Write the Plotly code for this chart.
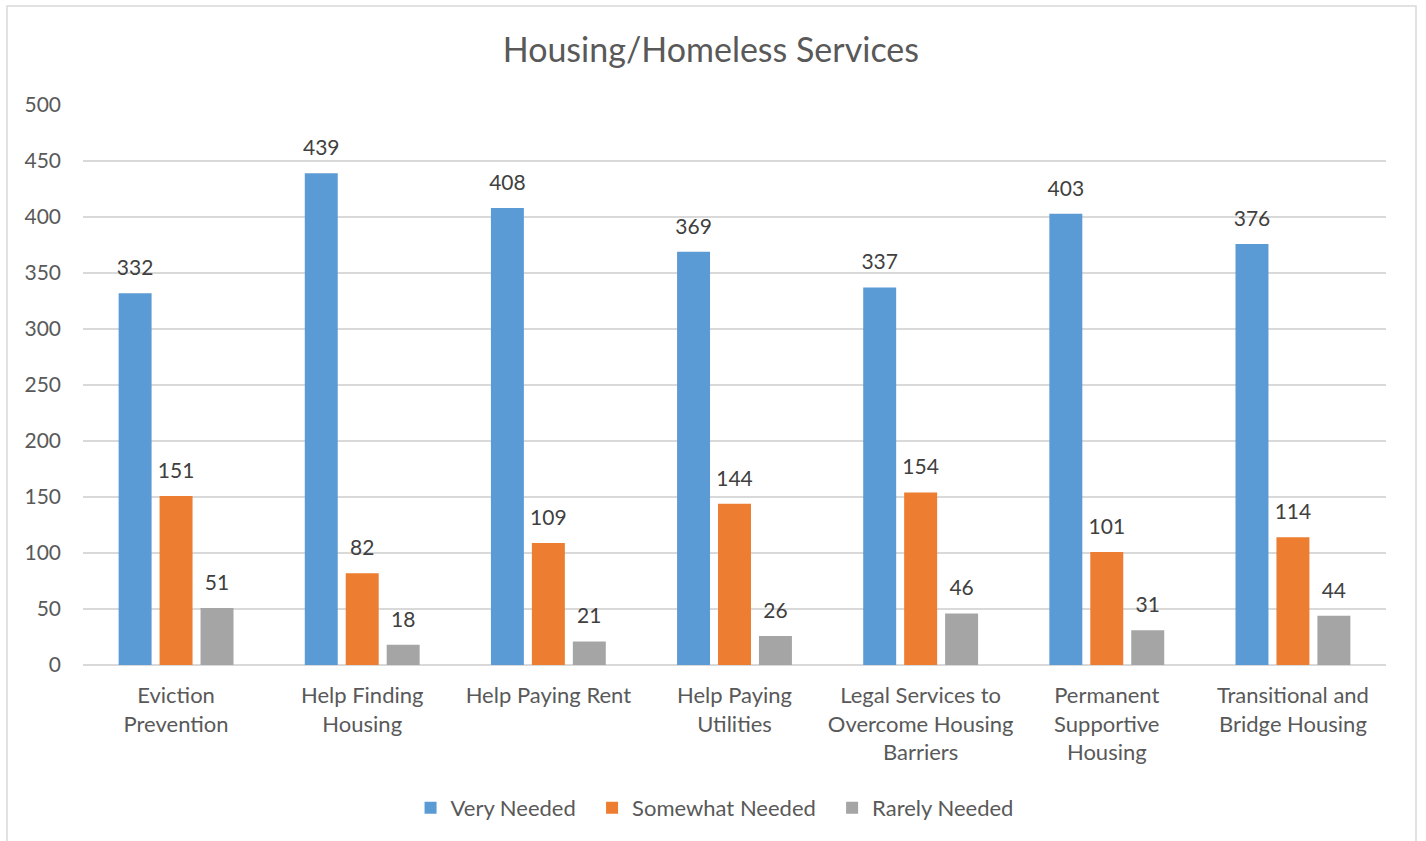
import plotly.graph_objects as go

categories = ["Eviction<br>Prevention", "Help Finding<br>Housing", "Help Paying Rent",
              "Help Paying<br>Utilities", "Legal Services to<br>Overcome Housing<br>Barriers",
              "Permanent<br>Supportive<br>Housing", "Transitional and<br>Bridge Housing"]
very_needed = [332, 439, 408, 369, 337, 403, 376]
somewhat_needed = [151, 82, 109, 144, 154, 101, 114]
rarely_needed = [51, 18, 21, 26, 46, 31, 44]
series_names = ["Very Needed", "Somewhat Needed", "Rarely Needed"]
colors = ["#5B9BD5", "#ED7D31", "#A5A5A5"]
y_ticks = [0, 50, 100, 150, 200, 250, 300, 350, 400, 450, 500]

FONT = "Lato"
BARGAP = 0.34
fig = go.Figure()
all_series = [very_needed, somewhat_needed, rarely_needed]
for i, (name, vals, col) in enumerate(zip(series_names, all_series, colors)):
    fig.add_trace(go.Bar(
        x=categories, y=vals, name=name + "\u00a0\u00a0",
        marker=dict(color=col, line=dict(width=0)),
        offsetgroup=str(i), hoverinfo="skip",
    ))
for i, (name, vals) in enumerate(zip(series_names, all_series)):
    fig.add_trace(go.Scatter(
        x=categories, y=vals, mode="markers+text", text=[str(v) for v in vals],
        textposition="top center", cliponaxis=False, showlegend=False,
        marker=dict(size=19, color="rgba(0,0,0,0)"), offsetgroup=str(i),
        textfont=dict(family=FONT, size=21, color="#404040"), hoverinfo="skip",
    ))

W, H = 1426, 841
L, R, T, B = 83, 40, 105, 176
pw, ph = W - L - R, H - T - B

def px_x(x):
    return (x - L) / pw

def px_y(y):
    return (H - B - y) / ph

fig.update_layout(
    width=W, height=H,
    margin=dict(l=L, r=R, t=T, b=B),
    paper_bgcolor="white", plot_bgcolor="white",
    barmode="group", bargap=BARGAP, bargroupgap=0.195,
    scattermode="group", scattergap=BARGAP,
    font=dict(family=FONT, color="#595959"),
    title=dict(text="Housing/Homeless Services", x=0.4985, xanchor="center", xref="container",
               y=1 - 50 / H, yanchor="middle", yref="container",
               font=dict(family=FONT, size=34, color="#595959")),
    xaxis=dict(showgrid=False, showline=False, ticks="", tickfont=dict(family=FONT, size=22, color="#595959"),
               ticklabelstandoff=15),
    yaxis=dict(range=[0, 500], tickvals=y_ticks, showgrid=True, gridcolor="#D9D9D9", gridwidth=1.5,
               zeroline=True, zerolinecolor="#D9D9D9", zerolinewidth=1.5, showline=False,
               tickfont=dict(family=FONT, size=21, color="#595959"), ticklabelstandoff=21),
    legend=dict(orientation="h", x=0.5053, xanchor="center", xref="container",
                y=1 - 808 / H, yanchor="middle", yref="container",
                font=dict(family=FONT, size=22, color="#595959"),
                itemwidth=30, traceorder="normal"),
    showlegend=True,
    shapes=[dict(type="rect", xref="paper", yref="paper",
                 x0=px_x(7), x1=px_x(1416), y0=px_y(850), y1=px_y(6),
                 line=dict(color="#D9D9D9", width=1.5), fillcolor="rgba(0,0,0,0)", layer="below")],
)

fig.write_html("out.html", config={"displayModeBar": False},
               post_script="document.body.style.margin='0';")
